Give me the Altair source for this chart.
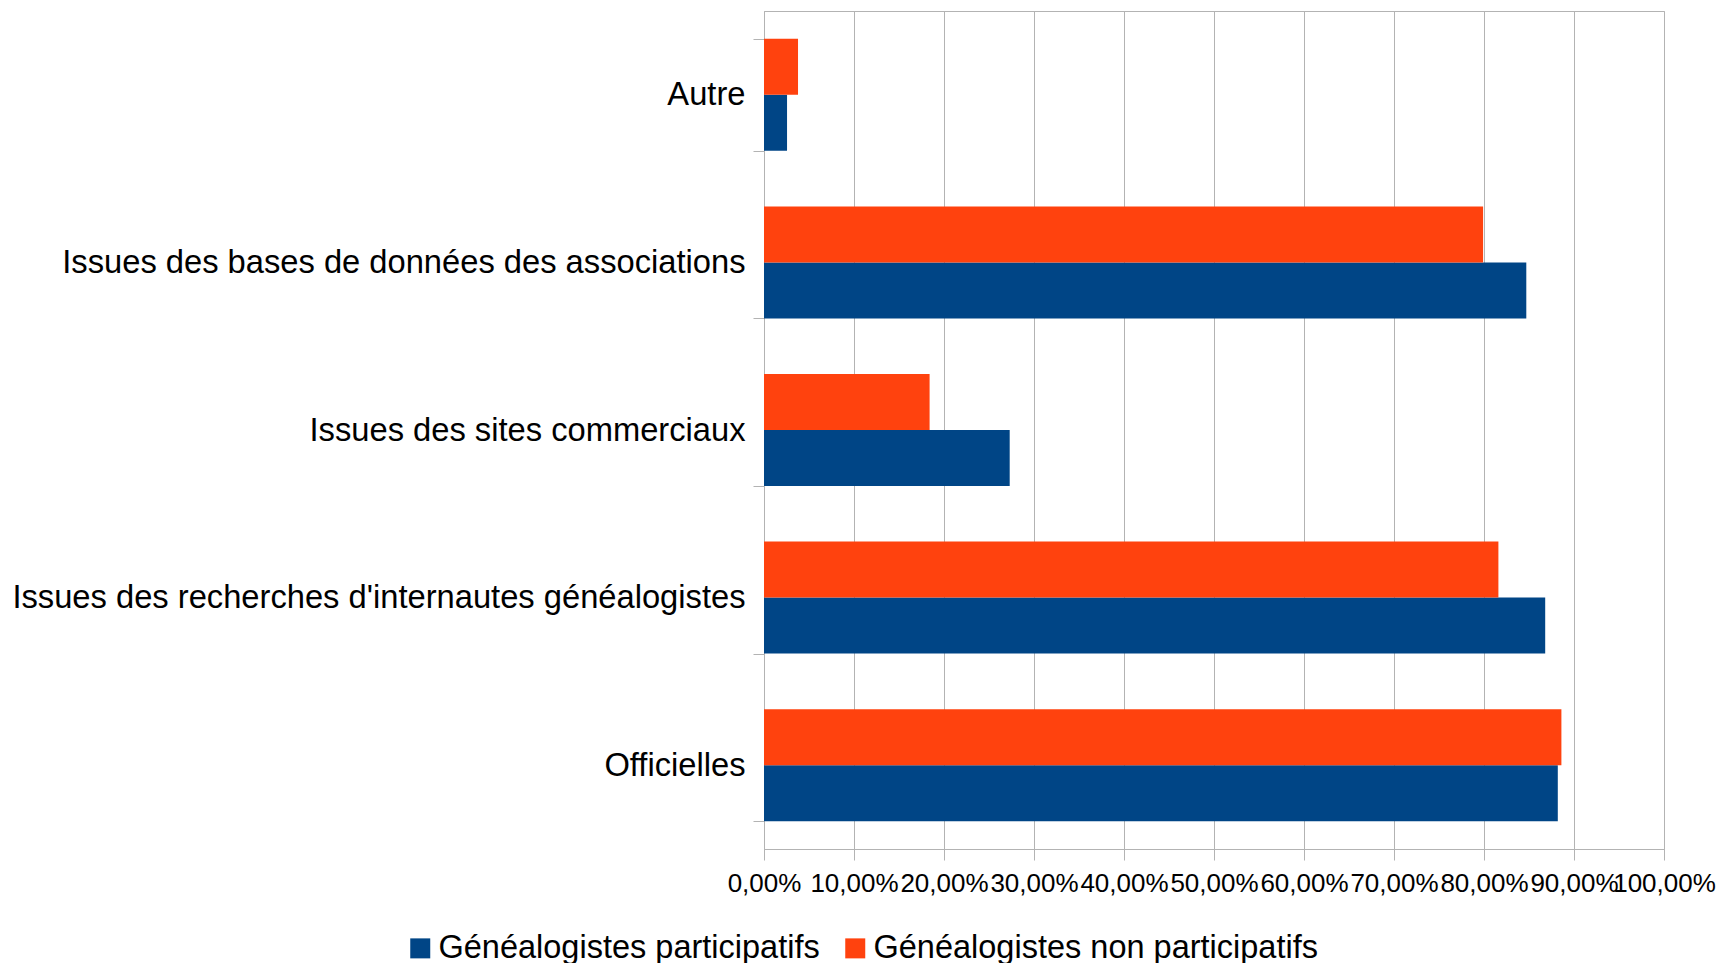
import altair as alt
import pandas as pd

categories = [
    "Autre",
    "Issues des bases de données des associations",
    "Issues des sites commerciaux",
    "Issues des recherches d'internautes généalogistes",
    "Officielles",
]
series = ["Généalogistes participatifs", "Généalogistes non participatifs"]
participatifs = [2.56, 84.7, 27.3, 86.8, 88.2]
non_participatifs = [3.78, 79.9, 18.4, 81.6, 88.6]
colors = ["#004586", "#ff420e"]
x_ticks = [0, 10, 20, 30, 40, 50, 60, 70, 80, 90, 100]

rows = []
for c, p, n in zip(categories, participatifs, non_participatifs):
    rows.append({"cat": c, "serie": series[0], "val": p})
    rows.append({"cat": c, "serie": series[1], "val": n})
df = pd.DataFrame(rows)

FONT = "Liberation Sans"
GRID = "#b3b3b3"

chart = alt.Chart(df).mark_bar().encode(
    y=alt.Y(
        "cat:N", sort=categories, title=None,
        scale=alt.Scale(paddingInner=0.332, paddingOuter=0.166),
        axis=alt.Axis(tickBand="extent", tickSize=11, labelFontSize=32.7, labelPadding=8,
                      labelLimit=0, domainColor=GRID, tickColor=GRID, grid=False,
                      labelColor="black", labelFont=FONT),
    ),
    yOffset=alt.YOffset("serie:N", sort=[series[1], series[0]]),
    x=alt.X(
        "val:Q", title=None,
        scale=alt.Scale(domain=[0, 100], nice=False),
        axis=alt.Axis(values=x_ticks,
                      labelExpr="replace(format(datum.value, '.2f'), '.', ',') + '%'",
                      labelFontSize=26, labelOverlap=False, labelFlush=False,
                      tickSize=11, labelPadding=10, gridColor=GRID, tickColor=GRID,
                      domainColor=GRID, labelColor="black", labelFont=FONT),
    ),
    color=alt.Color(
        "serie:N",
        scale=alt.Scale(domain=series, range=colors),
        legend=alt.Legend(orient="none", legendX=-360, legendY=921, direction="horizontal",
                          symbolType="square", symbolSize=400, labelFontSize=32.5,
                          title=None, padding=0, columnPadding=19, labelOffset=2,
                          symbolStrokeWidth=0, labelLimit=0, labelFont=FONT,
                          labelColor="black"),
    ),
).properties(
    width=900,
    height=838,
    autosize=alt.AutoSizeParams(type="none"),
    padding={"left": 756, "top": 3, "right": 55, "bottom": 125},
).configure_view(stroke=GRID)

chart.save("out.html", embed_options={"renderer": "svg", "actions": False})
